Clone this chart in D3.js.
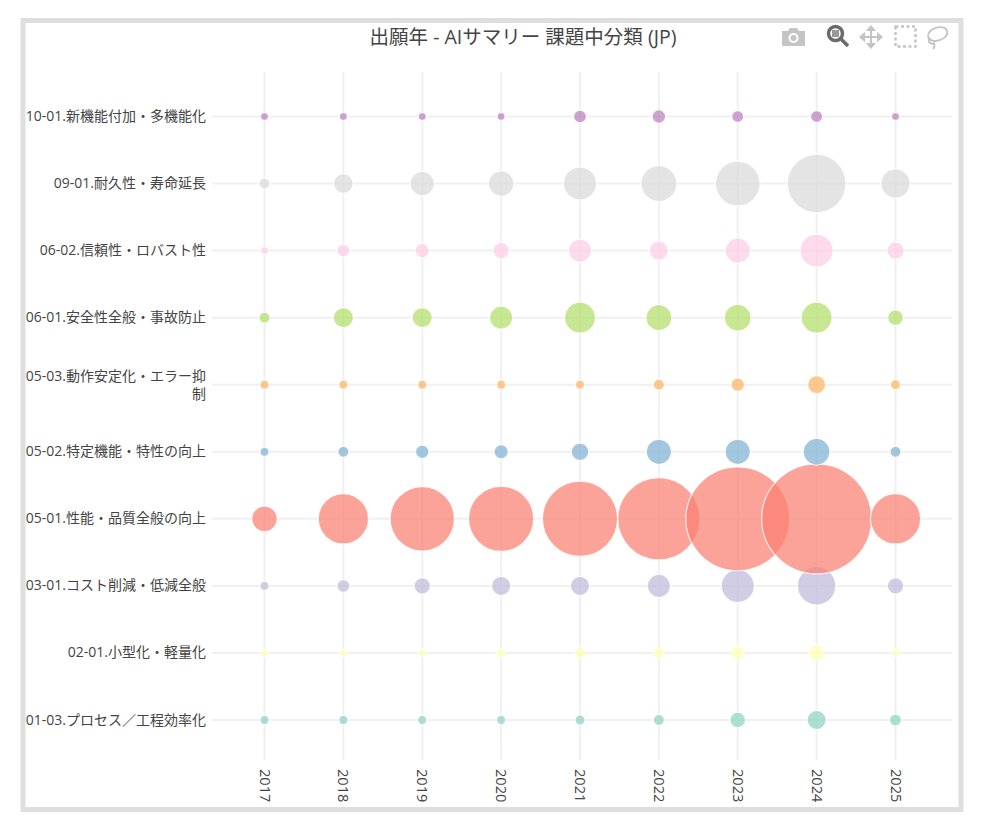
<!DOCTYPE html>
<html>
<head>
<meta charset="utf-8">
<script src="https://cdn.jsdelivr.net/npm/d3@7"></script>
<style>
	html, body { margin: 0; padding: 0; background: #fff; }
	svg { display: block; }
	text { font-family: "Open Sans", "Noto Sans CJK JP", sans-serif; fill: #444; }
</style>
</head>
<body>
<svg id="chart" width="984" height="833"></svg>
<script>
// @ Data
const years = [2017, 2018, 2019, 2020, 2021, 2022, 2023, 2024, 2025];
const categories = [
	"10-01.新機能付加・多機能化",
	"09-01.耐久性・寿命延長",
	"06-02.信頼性・ロバスト性",
	"06-01.安全性全般・事故防止",
	"05-03.動作安定化・エラー抑制",
	"05-02.特定機能・特性の向上",
	"05-01.性能・品質全般の向上",
	"03-01.コスト削減・低減全般",
	"02-01.小型化・軽量化",
	"01-03.プロセス／工程効率化",
];
const colors = ["#bc80bd", "#d9d9d9", "#fccde5", "#b3de69", "#fdb462", "#80b1d3", "#fb8072", "#bebada", "#ffffb3", "#8dd3c7"];

// counts per year, one list per category
const counts = [
	[3, 3, 3, 3, 8, 9, 7, 7, 3],
	[6, 19, 29, 32, 54, 64, 99, 170, 42],
	[3, 8, 10, 13, 26, 18, 31, 54, 15],
	[6, 20, 20, 26, 47, 33, 35, 47, 12],
	[4, 4, 4, 4, 4, 6, 9, 16, 5],
	[4, 6, 9, 10, 15, 31, 31, 35, 6],
	[32, 125, 205, 210, 280, 335, 535, 600, 125],
	[4, 8, 13, 18, 18, 26, 54, 73, 13],
	[3, 3, 3, 4, 6, 7, 9, 12, 3],
	[4, 4, 4, 4, 5, 6, 12, 18, 7],
];

const title = "出願年 - AIサマリー 課題中分類 (JP)";

// @ Layout
const width = 984;
const height = 833;
const plot = { left: 212, right: 952, top: 72, bottom: 760 };

const svg = d3.select("#chart");

// outer frame
svg.append("rect")
	.attr("x", 23)
	.attr("y", 20.5)
	.attr("width", 938)
	.attr("height", 789)
	.attr("fill", "#fff")
	.attr("stroke", "#dedede")
	.attr("stroke-width", 5);

// @ Scales
const x = d3.scalePoint().domain(years).range([264.5, 895.5]);
const y = d3.scalePoint().domain(categories).range([116.5, 720]);
const size = d3.scaleSqrt().domain([0, d3.max(counts.flat())]).range([0, 55]);

// @ Grid
const grid = svg.append("g").attr("stroke", "#f0f0f0").attr("stroke-width", 2);
grid.selectAll(".gx")
	.data(years)
	.enter()
	.append("line")
	.attr("class", "gx")
	.attr("x1", (d) => x(d))
	.attr("x2", (d) => x(d))
	.attr("y1", plot.top)
	.attr("y2", plot.bottom);
grid.selectAll(".gy")
	.data(categories)
	.enter()
	.append("line")
	.attr("class", "gy")
	.attr("x1", plot.left)
	.attr("x2", plot.right)
	.attr("y1", (d) => y(d))
	.attr("y2", (d) => y(d));

// @ Bubbles, bottom row first
const rowData = categories.map((d, i) => ({ cat: d, color: colors[i], values: counts[i] })).reverse();

const rows = svg.selectAll(".row")
	.data(rowData)
	.enter()
	.append("g")
	.attr("class", "row")
	.attr("fill", (d) => d.color);

rows.selectAll("circle")
	.data((d) => years.map((yr, j) => ({ cat: d.cat, year: yr, value: d.values[j] })))
	.enter()
	.append("circle")
	.attr("cx", (d) => x(d.year))
	.attr("cy", (d) => y(d.cat))
	.attr("r", (d) => size(d.value))
	.attr("fill-opacity", 0.72)
	.attr("stroke", "#fff")
	.attr("stroke-opacity", 0.8)
	.attr("stroke-width", 1.2);

// @ Axis labels
const wrapAt = 16;
const yLabels = svg.selectAll(".ylabel")
	.data(categories)
	.enter()
	.append("text")
	.attr("class", "ylabel")
	.attr("text-anchor", "end")
	.style("font-size", "14px");

yLabels.each(function (d) {
	const t = d3.select(this);
	const lines = d.length > wrapAt ? [d.slice(0, wrapAt), d.slice(wrapAt)] : [d];
	const base = y(d) + 4.5 - (lines.length - 1) * 8.5;
	lines.forEach((line, i) => {
		t.append("tspan")
			.attr("x", 206)
			.attr("y", base + i * 18)
			.text(line);
	});
});

svg.selectAll(".xlabel")
	.data(years)
	.enter()
	.append("text")
	.attr("class", "xlabel")
	.attr("transform", (d) => `translate(${x(d) - 5},769)rotate(90)`)
	.style("font-size", "14.6px")
	.text((d) => d);

svg.append("text")
	.attr("x", 523)
	.attr("y", 44)
	.attr("text-anchor", "middle")
	.style("font-size", "19.5px")
	.text(title);

// @ Modebar icons
const bar = svg.append("g");
const off = "#c4c4c4";
const on = "#6b6b6b";

// camera
const cam = bar.append("g").attr("transform", "translate(782,27)").attr("fill", off);
cam.append("path").attr("d", "M0 4 H6 L8 1 H15 L17 4 H23 V19 H0 Z");
cam.append("circle").attr("cx", 11.5).attr("cy", 11).attr("r", 5).attr("fill", "#fff");
cam.append("circle").attr("cx", 11.5).attr("cy", 11).attr("r", 3).attr("fill", off);

// zoom box (active)
const zoomIcon = bar.append("g").attr("transform", "translate(827,25)");
zoomIcon.append("circle").attr("cx", 8.5).attr("cy", 8.5).attr("r", 7).attr("fill", "#fff").attr("stroke", on).attr("stroke-width", 3.5);
zoomIcon.append("rect").attr("x", 5).attr("y", 5).attr("width", 7).attr("height", 7).attr("fill", "#999");
zoomIcon.append("line").attr("x1", 13.5).attr("y1", 13.5).attr("x2", 21).attr("y2", 21).attr("stroke", on).attr("stroke-width", 3.5);

// pan
const pan = bar.append("g").attr("transform", "translate(871,37)").attr("fill", "none").attr("stroke", off).attr("stroke-width", 2);
pan.append("path").attr("d", "M-8 0 H8 M0 -8 V8");
pan.append("path").attr("d", "M-7 -3 L-10.5 0 L-7 3 Z M7 -3 L10.5 0 L7 3 Z M-3 -7 L0 -10.5 L3 -7 Z M-3 7 L0 10.5 L3 7 Z").attr("fill", off);

// box select
bar.append("rect")
	.attr("x", 895.5).attr("y", 26.5).attr("width", 20).attr("height", 20)
	.attr("fill", "none").attr("stroke", off).attr("stroke-width", 2.5).attr("stroke-dasharray", "3 2.5");

// lasso
const lasso = bar.append("g").attr("transform", "translate(938,35)").attr("fill", "none").attr("stroke", off).attr("stroke-width", 1.8);
lasso.append("ellipse").attr("cx", 0).attr("cy", -1).attr("rx", 10).attr("ry", 6.5).attr("transform", "rotate(-18)");
lasso.append("path").attr("d", "M-8 3 C-11 7 -7 10 -4 8 C-3 11 -4 13 -5 14");
</script>
</body>
</html>
